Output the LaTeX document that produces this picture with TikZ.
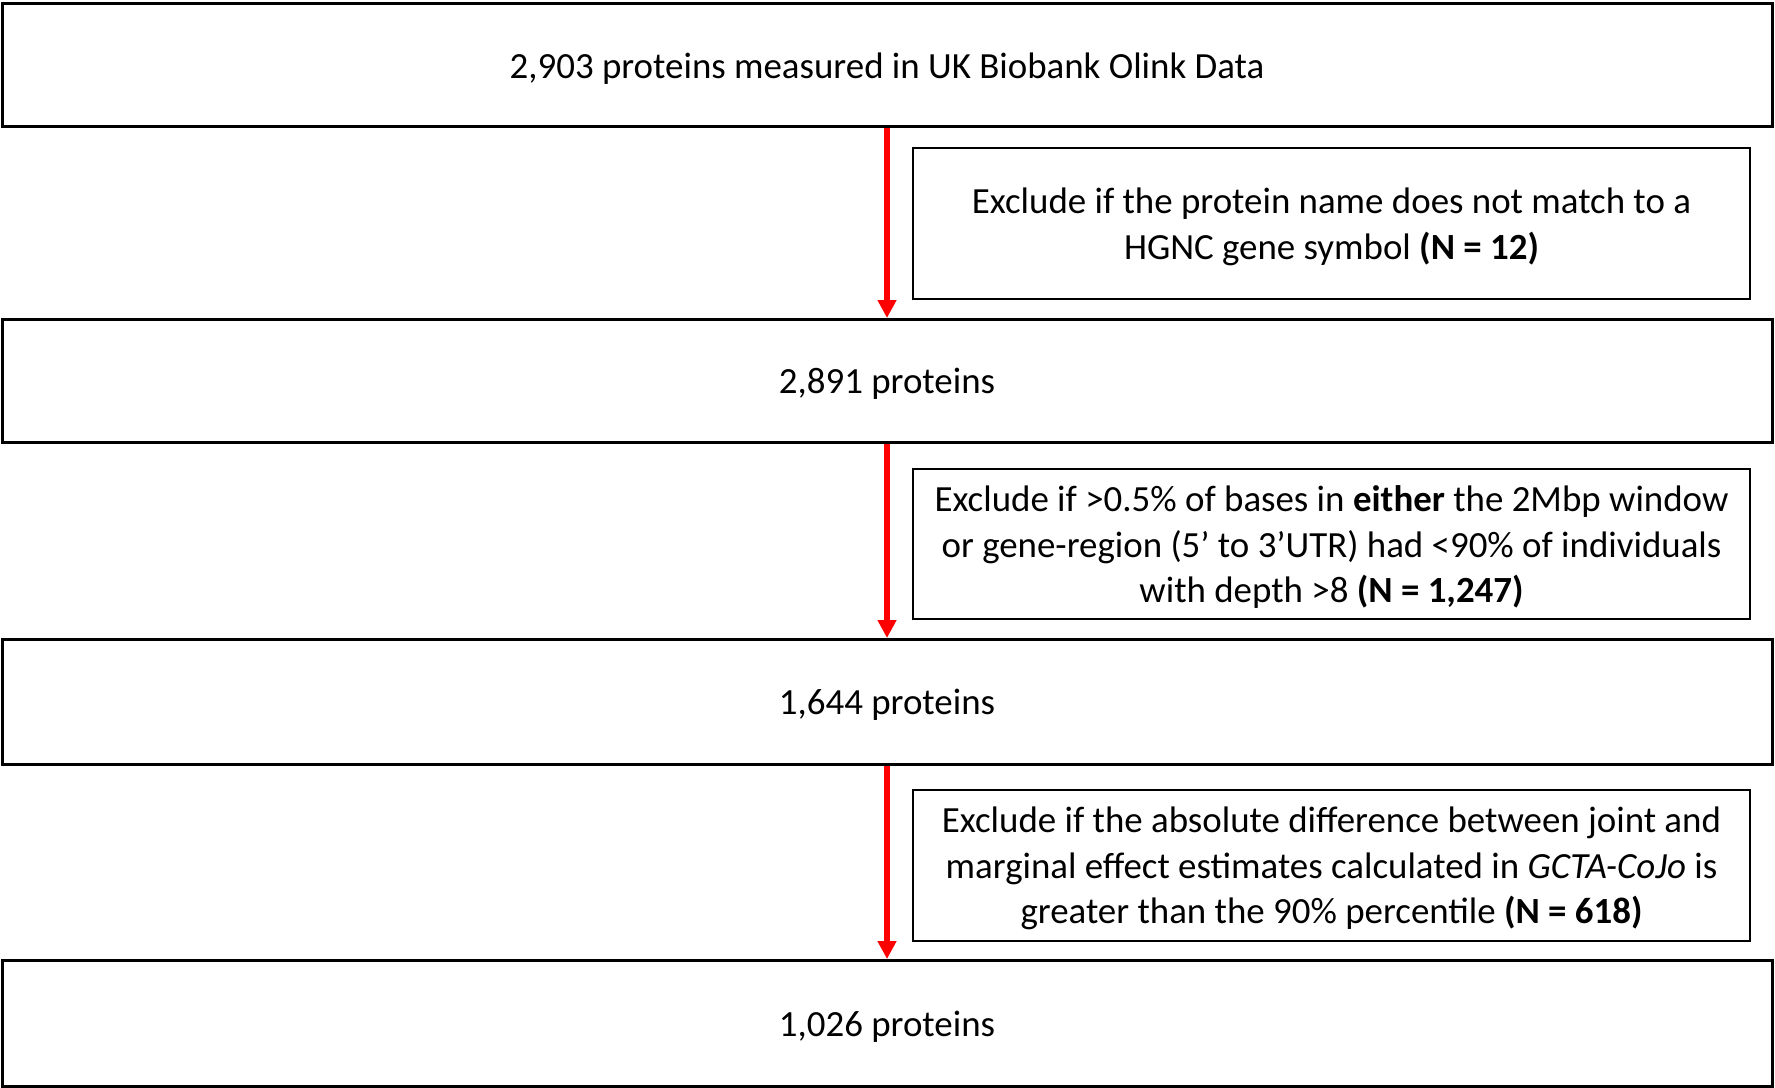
\documentclass[tikz,border=0pt]{standalone}
\usepackage{fontspec}
\setmainfont{Carlito}
\usetikzlibrary{arrows.meta}
\begin{document}
\begin{tikzpicture}[x=0.5pt,y=-0.5pt,
  txt/.style={font=\fontsize{18.45}{22.8}\selectfont,align=center,inner sep=0pt,yshift=-1.6pt},
  mainbox/.style={draw=black,line width=1.5pt,minimum width=885pt,inner sep=0pt,anchor=north},
  sidebox/.style={draw=black,line width=1pt,minimum width=418.5pt,inner sep=0pt,anchor=north},
  flow/.style={draw={rgb,255:red,255;green,0;blue,0},line width=3pt,
    -{Triangle[length=9pt,width=9pt,fill={rgb,255:red,255;green,0;blue,0}]},shorten >=0pt}]
\useasboundingbox (0,0) rectangle (1775,1087);
\node[mainbox,minimum height=61.5pt,label={[txt]center:2,903 proteins measured in UK Biobank Olink Data}] (b1) at (887,2) {};
\node[mainbox,minimum height=61.5pt,label={[txt]center:2,891 proteins}] (b2) at (887,318) {};
\node[mainbox,minimum height=62.5pt,label={[txt]center:1,644 proteins}] (b3) at (887,638) {};
\node[mainbox,minimum height=63pt,label={[txt]center:1,026 proteins}] (b4) at (887,959) {};
\node[sidebox,minimum height=75.5pt,label={[txt]center:Exclude if the protein name does not match to a\\HGNC gene symbol \textbf{(N = 12)}}] (s1) at (1331.5,147) {};
\node[sidebox,minimum height=75pt,label={[txt]center:Exclude if >0.5\% of bases in \textbf{either} the 2Mbp window\\or gene-region (5’ to 3’UTR) had <90\% of individuals\\with depth >8 \textbf{(N = 1,247)}}] (s2) at (1331.5,468) {};
\node[sidebox,minimum height=75.5pt,label={[txt]center:Exclude if the absolute difference between joint and\\marginal effect estimates calculated in \textit{GCTA-CoJo} is\\greater than the 90\% percentile \textbf{(N = 618)}}] (s3) at (1331.5,789) {};
\draw[flow] (b1.south) -- (b2.north);
\draw[flow] (b2.south) -- (b3.north);
\draw[flow] (b3.south) -- (b4.north);
\end{tikzpicture}
\end{document}
